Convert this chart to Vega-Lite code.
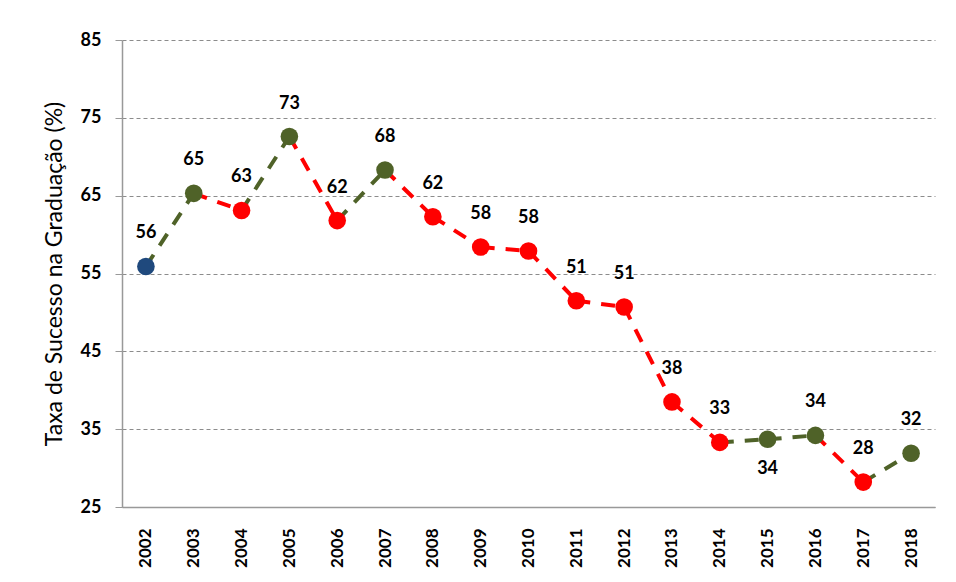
{
  "$schema": "https://vega.github.io/schema/vega-lite/v6.json",
  "autosize": "none",
  "width": 813,
  "height": 467,
  "padding": {"left": 122, "top": 40, "right": 21, "bottom": 75},
  "background": "white",
  "config": {
    "view": {"stroke": null},
    "font": "Lato",
    "axis": {"labelFont": "Lato", "titleFont": "Lato"}
  },
  "data": {
    "values": [
      {"ano": "2002", "taxa": 55.9, "rotulo": "56", "tendencia": "início"},
      {"ano": "2003", "taxa": 65.3, "rotulo": "65", "tendencia": "sobe"},
      {"ano": "2004", "taxa": 63.1, "rotulo": "63", "tendencia": "desce"},
      {"ano": "2005", "taxa": 72.6, "rotulo": "73", "tendencia": "sobe"},
      {"ano": "2006", "taxa": 61.8, "rotulo": "62", "tendencia": "desce"},
      {"ano": "2007", "taxa": 68.3, "rotulo": "68", "tendencia": "sobe"},
      {"ano": "2008", "taxa": 62.3, "rotulo": "62", "tendencia": "desce"},
      {"ano": "2009", "taxa": 58.4, "rotulo": "58", "tendencia": "desce"},
      {"ano": "2010", "taxa": 57.9, "rotulo": "58", "tendencia": "desce"},
      {"ano": "2011", "taxa": 51.5, "rotulo": "51", "tendencia": "desce"},
      {"ano": "2012", "taxa": 50.7, "rotulo": "51", "tendencia": "desce"},
      {"ano": "2013", "taxa": 38.5, "rotulo": "38", "tendencia": "desce"},
      {"ano": "2014", "taxa": 33.3, "rotulo": "33", "tendencia": "desce"},
      {"ano": "2015", "taxa": 33.7, "rotulo": "34", "tendencia": "sobe"},
      {"ano": "2016", "taxa": 34.2, "rotulo": "34", "tendencia": "sobe"},
      {"ano": "2017", "taxa": 28.2, "rotulo": "28", "tendencia": "desce"},
      {"ano": "2018", "taxa": 31.9, "rotulo": "32", "tendencia": "sobe"}
    ]
  },
  "encoding": {
    "x": {
      "field": "ano",
      "type": "ordinal",
      "scale": {"type": "point", "padding": 0.5},
      "axis": {
        "title": null,
        "labelAngle": -90,
        "labelFontSize": 17,
        "labelFontWeight": "bold",
        "labelColor": "black",
        "labelPadding": 21,
        "ticks": false,
        "domainColor": "#999999",
        "domainWidth": 1.5,
        "grid": false
      }
    },
    "y": {
      "field": "taxa",
      "type": "quantitative",
      "scale": {"domain": [25, 85], "nice": false, "zero": false},
      "axis": {
        "title": "Taxa de Sucesso na Graduação (%)",
        "titleFontSize": 23,
        "titleFontWeight": "normal",
        "titleColor": "black",
        "titlePadding": 14,
        "values": [25, 35, 45, 55, 65, 75, 85],
        "labelFontSize": 18,
        "labelFontWeight": "bold",
        "labelColor": "black",
        "labelPadding": 14,
        "tickSize": 7,
        "tickColor": "#999999",
        "domainColor": "#999999",
        "domainWidth": 1.5,
        "grid": true,
        "gridColor": "#8c8c8c",
        "gridDash": [4, 3],
        "gridWidth": 1
      }
    }
  },
  "layer": [
    {
      "transform": [
        {"window": [{"op": "lag", "field": "ano", "as": "anoAnterior"}, {"op": "lag", "field": "taxa", "as": "taxaAnterior"}], "sort": [{"field": "ano"}]},
        {"filter": "datum.anoAnterior != null"}
      ],
      "mark": {"type": "rule", "strokeWidth": 4, "strokeDash": [14, 11]},
      "encoding": {
        "x": {"field": "anoAnterior", "type": "ordinal"},
        "x2": {"field": "ano"},
        "y": {"field": "taxaAnterior", "type": "quantitative"},
        "y2": {"field": "taxa"},
        "color": {
          "field": "tendencia",
          "type": "nominal",
          "scale": {"domain": ["início", "sobe", "desce"], "range": ["#1F497D", "#4F6228", "#FF0000"]},
          "legend": null
        }
      }
    },
    {
      "mark": {"type": "circle", "size": 310, "opacity": 1},
      "encoding": {
        "color": {
          "field": "tendencia",
          "type": "nominal",
          "scale": {"domain": ["início", "sobe", "desce"], "range": ["#1F497D", "#4F6228", "#FF0000"]},
          "legend": null
        }
      }
    },
    {
      "transform": [{"filter": "datum.ano != '2015'"}],
      "mark": {"type": "text", "dy": -33, "fontSize": 18, "fontWeight": "bold", "color": "black"},
      "encoding": {"text": {"field": "rotulo"}}
    },
    {
      "transform": [{"filter": "datum.ano == '2015'"}],
      "mark": {"type": "text", "dy": 30, "fontSize": 18, "fontWeight": "bold", "color": "black"},
      "encoding": {"text": {"field": "rotulo"}}
    }
  ]
}
